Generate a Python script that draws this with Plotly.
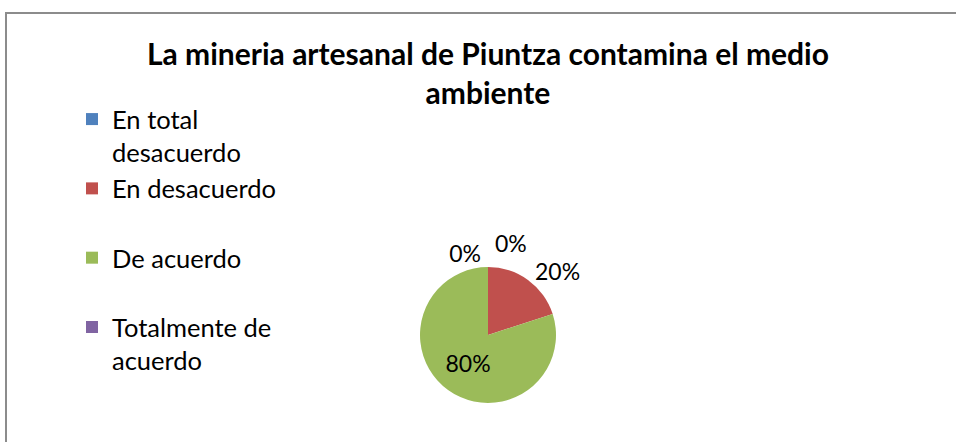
import plotly.graph_objects as go

labels = ["En total<br>desacuerdo", "En desacuerdo<br> ", "De acuerdo<br> ", "Totalmente de<br>acuerdo"]
values = [0, 20, 80, 0]
colors = ["#4F81BD", "#C0504D", "#9BBB59", "#8064A2"]
title_text = "La mineria artesanal de Piuntza contamina el medio<br>ambiente"

W, H = 956, 442
cx, cy, r = 488, 335, 68

fig = go.Figure(go.Pie(
    labels=labels,
    values=values,
    marker=dict(colors=colors, line=dict(width=0)),
    sort=False,
    direction="clockwise",
    rotation=0,
    textinfo="percent",
    texttemplate="%{percent:.0%}",
    textposition=["outside", "outside", "inside", "outside"],
    textfont=dict(family="Lato", size=23, color="black"),
    insidetextfont=dict(family="Lato", size=23, color="black"),
    outsidetextfont=dict(family="Lato", size=23, color="black"),
    domain=dict(x=[(cx - r) / W, (cx + r) / W], y=[(H - cy - r) / H, (H - cy + r) / H]),
    showlegend=True,
    hoverinfo="label+percent",
))

fig.update_layout(
    width=W, height=H,
    margin=dict(l=0, r=0, t=0, b=0),
    paper_bgcolor="white",
    plot_bgcolor="white",
    font=dict(family="Lato", color="black"),
    title=dict(text="<b>" + title_text + "</b>", x=488 / W, y=1 - 65 / H, xanchor="center", yanchor="middle",
               font=dict(family="Lato", size=30, color="black")),
    legend=dict(x=72 / W, y=1 - 96 / H, xanchor="left", yanchor="top", valign="top",
                font=dict(family="Lato", size=25.5, color="black"), bgcolor="rgba(0,0,0,0)",
                itemclick=False, itemdoubleclick=False),
    shapes=[dict(type="rect", xref="paper", yref="paper", x0=6 / W, x1=1.02, y0=-0.02, y1=1 - 13 / H,
                 line=dict(color="#8C8C8C", width=2), fillcolor="rgba(0,0,0,0)", layer="below")],
)

post = (
    "document.body.style.margin='0';"
    "document.body.style.overflow='hidden';"
    "var s=document.createElement('style');"
    "s.textContent='path.textline{display:none}';"
    "document.head.appendChild(s);"
)
fig.write_html("out.html", post_script=post, config={"displayModeBar": False})
